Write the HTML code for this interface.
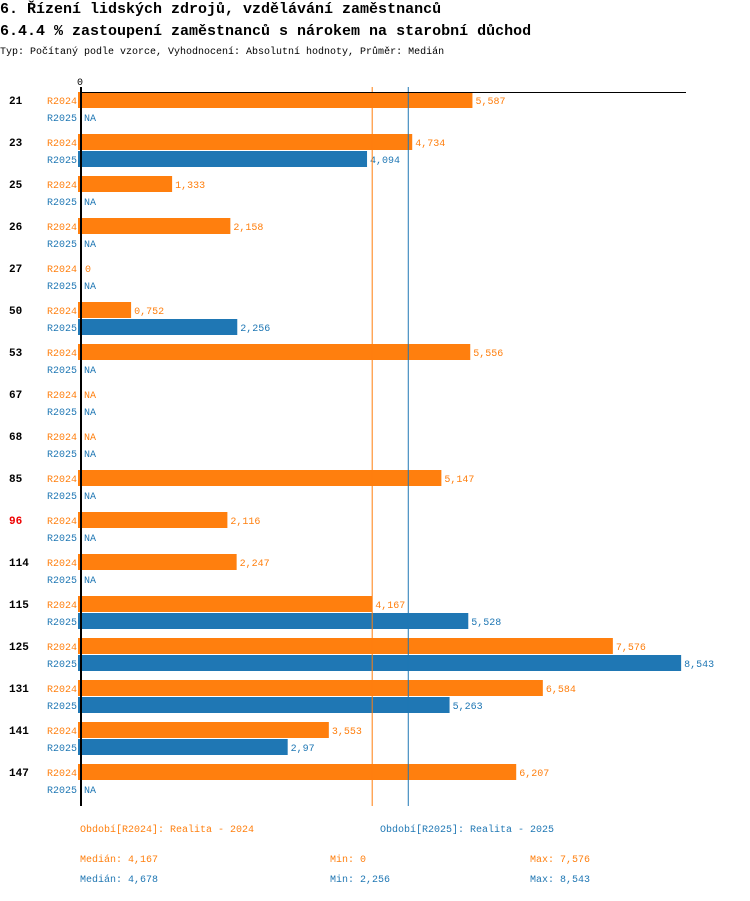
<!DOCTYPE html>
<html><head><meta charset="utf-8"><style>
body{margin:0;background:#fff;width:750px;height:896px;overflow:hidden;font-family:"Liberation Mono",monospace}
text{font-family:"Liberation Mono",monospace}
</style></head><body>
<svg id="c" width="750" height="896">
<text x="0" y="13" font-size="15" font-weight="bold">6. Řízení lidských zdrojů, vzdělávání zaměstnanců</text>
<text x="0" y="35" font-size="15" font-weight="bold">6.4.4 % zastoupení zaměstnanců s nárokem na starobní důchod</text>
<text x="0" y="54" font-size="10">Typ: Počítaný podle vzorce, Vyhodnocení: Absolutní hodnoty, Průměr: Medián</text>
<g id="g"></g>
<text x="80" y="832" font-size="10" fill="#ff7f0e">Období[R2024]: Realita - 2024</text>
<text x="380" y="832" font-size="10" fill="#1f77b4">Období[R2025]: Realita - 2025</text>
<text x="80" y="862" font-size="10" fill="#ff7f0e">Medián: 4,167</text>
<text x="330" y="862" font-size="10" fill="#ff7f0e">Min: 0</text>
<text x="530" y="862" font-size="10" fill="#ff7f0e">Max: 7,576</text>
<text x="80" y="882" font-size="10" fill="#1f77b4">Medián: 4,678</text>
<text x="330" y="882" font-size="10" fill="#1f77b4">Min: 2,256</text>
<text x="530" y="882" font-size="10" fill="#1f77b4">Max: 8,543</text>
</svg>
<script>
const categories=["21","23","25","26","27","50","53","67","68","85","96","114","115","125","131","141","147"];
const values2024=[5.587,4.734,1.333,2.158,0,0.752,5.556,null,null,5.147,2.116,2.247,4.167,7.576,6.584,3.553,6.207];
const values2025=[null,4.094,null,null,null,2.256,null,null,null,null,null,null,5.528,8.543,5.263,2.97,null];
const highlighted=["96"];
const median2024=4.167, median2025=4.678;
const NS="http://www.w3.org/2000/svg";
const g=document.getElementById('g');
const x0=78, scale=70.6;
const xs=v=>x0+v*scale;
const rowY=(i,s)=>100+i*42+s*17;
function mk(t,a,txt){const e=document.createElementNS(NS,t);for(const k in a)e.setAttribute(k,a[k]);if(txt!=null)e.textContent=txt;g.appendChild(e);return e;}
const fmt=v=>String(v).replace('.',',');
const cols=["#ff7f0e","#1f77b4"];
categories.forEach((c,i)=>{
  const l=mk('text',{x:9,y:rowY(i,0)+4,'font-size':11,'font-weight':'bold',fill:highlighted.includes(c)?'#e00':'#000'},c);
  
  
  [values2024,values2025].forEach((arr,s)=>{
    const y=rowY(i,s), v=arr[i];
    const sl=mk('text',{x:47,y:y+4,'font-size':10,fill:cols[s]},s?'R2025':'R2024');
    
    
    if(v==null){
      const t=mk('text',{x:84,y:y+4,'font-size':10,fill:cols[s]},'NA');
      
      
      return;
    }
    if(v>0){
      const r=mk('rect',{x:x0,y:y-8,width:xs(v)-x0,height:16,fill:cols[s]});
      
      
    }
    const t=mk('text',{x:Math.max(xs(v),82)+3,y:y+4,'font-size':10,fill:cols[s]},fmt(v));
    
    
  });
});
[[median2024,0],[median2025,1]].forEach(([m,s])=>{
  const ln=mk('line',{x1:xs(m),x2:xs(m),y1:87,y2:806,stroke:cols[s],'stroke-width':1});
  
  
});
const ax=mk('line',{x1:81,x2:81,y1:87,y2:806,stroke:'#000','stroke-width':2});


const tx=mk('line',{x1:80,x2:686,y1:92.5,y2:92.5,stroke:'#000','stroke-width':1});


const z=mk('text',{x:77,y:85,'font-size':10},'0');


</script>
</body></html>
